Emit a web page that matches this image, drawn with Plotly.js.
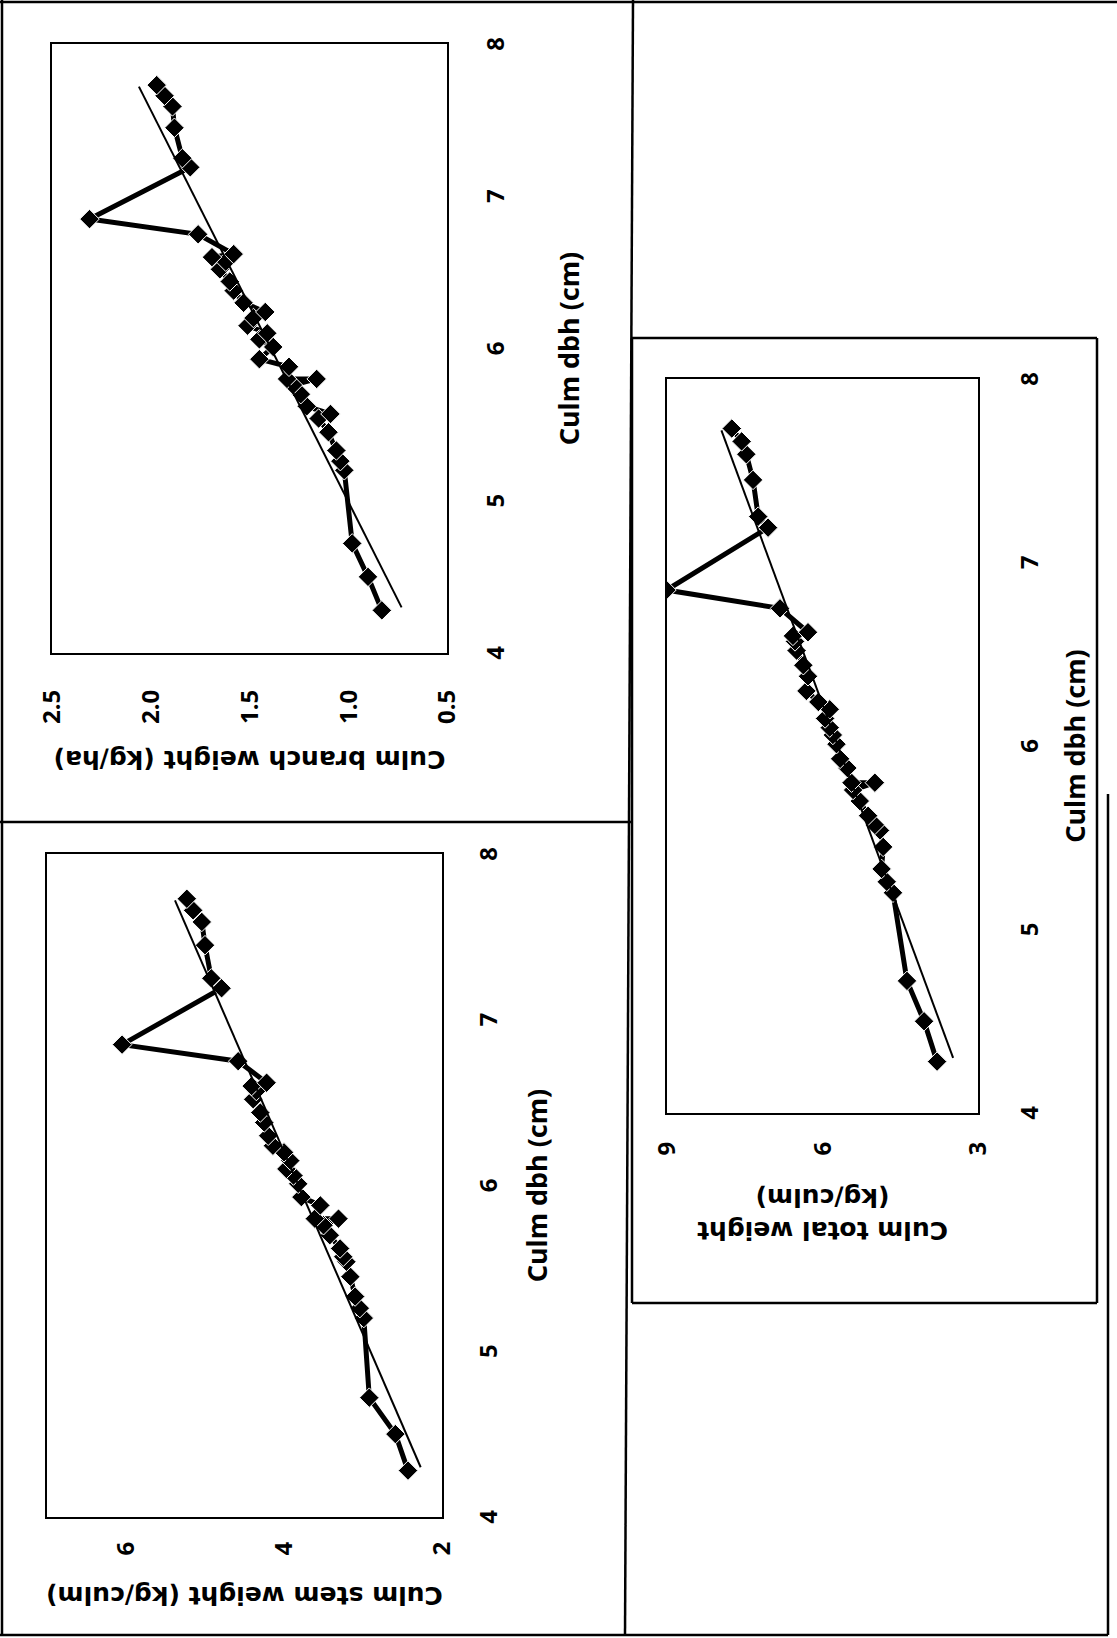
<!DOCTYPE html>
<html>
<head>
<meta charset="utf-8">
<script src="https://cdn.plot.ly/plotly-3.0.1.min.js"></script>
<style>
html,body{margin:0;padding:0;background:#fff;}
#page{position:relative;width:1117px;height:1638px;overflow:hidden;background:#fff;}
#chart{position:absolute;left:0;top:0;width:1638px;height:1117px;transform-origin:0 0;transform:translate(0px,1638px) rotate(-90deg);}
</style>
</head>
<body>
<div id="page"><div id="chart"></div></div>
<script>
// ---- data ----
const dbh = [4.28, 4.50, 4.72, 5.20, 5.26, 5.33, 5.45, 5.54, 5.57, 5.62, 5.70, 5.76, 5.80, 5.80, 5.88, 5.93,
             6.01, 6.06, 6.10, 6.15, 6.20, 6.24, 6.30, 6.38, 6.44, 6.52, 6.57, 6.60, 6.62, 6.75, 6.85,
             7.19, 7.25, 7.45, 7.59, 7.66, 7.73];
const branchWeight = [0.83, 0.90, 0.98, 1.02, 1.04, 1.06, 1.10, 1.15, 1.09, 1.21, 1.24, 1.28, 1.16, 1.31, 1.30, 1.45,
             1.38, 1.45, 1.41, 1.51, 1.48, 1.42, 1.53, 1.58, 1.60, 1.65, 1.62, 1.69, 1.58, 1.76, 2.31,
             1.80, 1.84, 1.88, 1.89, 1.93, 1.97];
const stemWeight = [2.43, 2.59, 2.92, 2.99, 3.04, 3.10, 3.16, 3.21, 3.25, 3.29, 3.42, 3.50, 3.31, 3.61, 3.54, 3.78,
             3.82, 3.88, 3.97, 3.92, 4.00, 4.14, 4.20, 4.25, 4.30, 4.39, 4.35, 4.41, 4.22, 4.58, 6.05,
             4.79, 4.92, 5.00, 5.04, 5.15, 5.23];
const totalWeight = [3.79, 4.04, 4.37, 4.64, 4.76, 4.86, 4.83, 4.89, 4.99, 5.12, 5.28, 5.41, 4.99, 5.44, 5.52, 5.66,
             5.73, 5.80, 5.86, 5.95, 5.86, 6.08, 6.31, 6.28, 6.37, 6.50, 6.53, 6.57, 6.28, 6.82, 9.01,
             7.05, 7.24, 7.34, 7.47, 7.56, 7.75];
// linear trend lines (end points)
const trendDbh = [4.30, 7.72];
const branchTrend = [0.73, 2.06];
const stemTrend = [2.27, 5.38];
const totalTrend = [3.48, 7.95];
// tick values / labels
const dbhTicks = [4, 5, 6, 7, 8];
const branchTicks = [0.5, 1.0, 1.5, 2.0, 2.5];
const branchTickText = ['0.5', '1.0', '1.5', '2.0', '2.5'];
const stemTicks = [2, 4, 6];
const totalTicks = [3, 6, 9];
const xTitle = 'Culm dbh (cm)';
const branchTitle = 'Culm branch weight (kg/ha)';
const stemTitle = 'Culm stem weight (kg/culm)';
const totalTitle = 'Culm total weight<br>(kg/culm)';

// ---- layout helpers (unrotated canvas 1638 x 1117, then rotated by CSS) ----
const W = 1638, H = 1117;
const U = u => u / W;          // horizontal px -> paper
const V = v => 1 - v / H;      // vertical px (from top) -> paper

const tickFont = {family: '"Noto Sans", "DejaVu Sans", sans-serif', size: 24, color: '#000', weight: 'bold'};
const xTitleFont = {family: '"Noto Sans", "DejaVu Sans", sans-serif', size: 27, color: '#000', weight: 'bold'};
const yTitleFont = {family: '"DejaVu Sans", sans-serif', size: 25, color: '#000', weight: 'bold'};

function xAx(domain, anchor, labelGap, titleGap) {
  return {
    domain: domain, anchor: anchor, range: [4, 8], tickvals: dbhTicks,
    showline: true, mirror: true, linecolor: '#000', linewidth: 2,
    showgrid: false, zeroline: false, ticks: '', ticklabelstandoff: labelGap,
    tickfont: tickFont, fixedrange: true,
    title: {text: xTitle, font: xTitleFont, standoff: titleGap}
  };
}
function yAx(domain, anchor, range, tickvals, ticktext, labelGap, title, titleGap) {
  return {
    domain: domain, anchor: anchor, range: range, tickvals: tickvals, ticktext: ticktext,
    showline: true, mirror: true, linecolor: '#000', linewidth: 2,
    showgrid: false, zeroline: false, ticks: '', ticklabelstandoff: labelGap,
    tickfont: tickFont, fixedrange: true,
    title: {text: title, font: yTitleFont, standoff: titleGap}
  };
}

function series(x, y, xa, ya) {
  return {
    type: 'scatter', mode: 'lines+markers', x: x, y: y, xaxis: xa, yaxis: ya,
    line: {color: '#000', width: 5},
    marker: {symbol: 'diamond', size: 15, color: '#000', line: {color: '#fff', width: 1}},
    showlegend: false, hoverinfo: 'x+y'
  };
}
function trend(x, y, xa, ya) {
  return {
    type: 'scatter', mode: 'lines', x: x, y: y, xaxis: xa, yaxis: ya,
    line: {color: '#000', width: 2}, showlegend: false, hoverinfo: 'skip'
  };
}

const traces = [
  series(dbh, branchWeight, 'x', 'y'), trend(trendDbh, branchTrend, 'x', 'y'),
  series(dbh, stemWeight, 'x2', 'y2'), trend(trendDbh, stemTrend, 'x2', 'y2'),
  series(dbh, totalWeight, 'x3', 'y3'), trend(trendDbh, totalTrend, 'x3', 'y3')
];

function seg(u0, v0, u1, v1, w) {
  return {type: 'line', xref: 'paper', yref: 'paper', x0: U(u0), y0: V(v0), x1: U(u1), y1: V(v1),
          line: {color: '#000', width: w || 2.5}, layer: 'below'};
}

const shapes = [
  seg(3, 2, 1638, 2),          // outer edge
  seg(1636, 0, 1636, 1117),    // outer edge
  seg(816, 0, 816, 633),       // cell divider between upper panels
  seg(1638, 633, 3, 625),      // cell divider upper / lower row
  seg(3, 0, 3, 1108),          // outer edge
  seg(3, 1108, 844, 1108),     // outer edge (lower left)
  // chart area box of the lower panel
  seg(335, 632, 1300, 632), seg(1300, 632, 1300, 1097), seg(1300, 1097, 335, 1097), seg(335, 1097, 335, 632)
];

const layout = {
  width: W, height: H, margin: {l: 0, r: 0, t: 0, b: 0},
  paper_bgcolor: '#fff', plot_bgcolor: '#fff', showlegend: false,
  xaxis: xAx([U(985), U(1594)], 'y', 26, 50),
  yaxis: yAx([V(447), V(52)], 'x', [0.5, 2.5], branchTicks, branchTickText, 30, branchTitle, 19),
  xaxis2: xAx([U(121), U(784)], 'y2', 24, 25),
  yaxis2: yAx([V(442), V(47)], 'x2', [2, 7], stemTicks, null, 18, stemTitle, 24),
  xaxis3: xAx([U(525), U(1259)], 'y3', 29, 22),
  yaxis3: yAx([V(978), V(667)], 'x3', [3, 9], totalTicks, null, 22, totalTitle, 26),
  shapes: shapes
};

Plotly.newPlot('chart', traces, layout, {staticPlot: true, displayModeBar: false});
</script>
</body>
</html>
